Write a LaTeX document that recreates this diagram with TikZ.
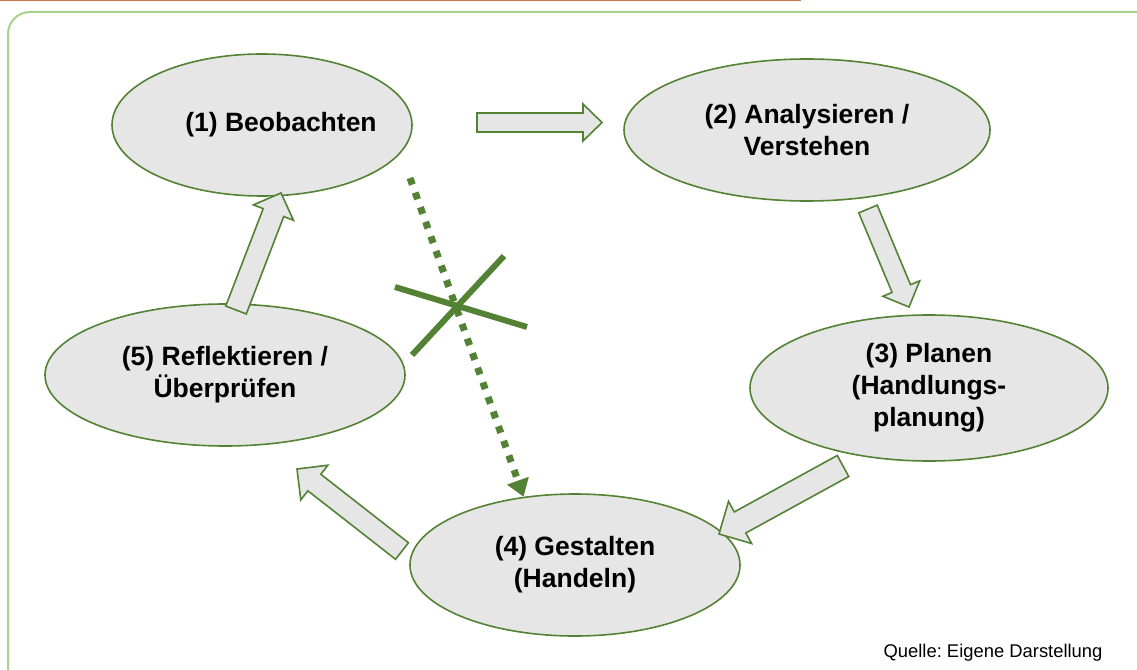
\documentclass[tikz,border=0pt]{standalone}
\usepackage{fontspec}
\setmainfont{Liberation Sans}
\frenchspacing
\usetikzlibrary{shapes.geometric}
\usetikzlibrary{arrows.meta}
\usetikzlibrary{calc}

\definecolor{darkgreen}{RGB}{84,130,53}
\definecolor{lightgreen}{RGB}{169,209,142}
\definecolor{stagegray}{RGB}{231,230,230}
\definecolor{topline}{RGB}{197,118,74}

% block arrow: tail, tip, half body width, half head width, head length
\newcommand{\blockarrow}[5]{%
  \coordinate (hb) at ($(#2)!#5!(#1)$);
  \draw[blockarr] ($(#1)!#3!90:(#2)$) -- ($(hb)!#3!90:(#2)$) -- ($(hb)!#4!90:(#2)$) -- (#2)
    -- ($(hb)!#4!-90:(#2)$) -- ($(hb)!#3!-90:(#2)$) -- ($(#1)!#3!-90:(#2)$) -- cycle;
}

\begin{document}
\begin{tikzpicture}[x=1pt, y=-1pt,
    stage/.style={ellipse, draw=darkgreen, line width=1.6pt, fill=stagegray, inner sep=0pt,
      align=center, font=\fontsize{26.5}{32}\selectfont\bfseries},
    blockarr/.style={draw=darkgreen, line width=1.6pt, fill=stagegray, line join=miter},
    dotarr/.style={darkgreen, line width=7pt, dash pattern=on 7pt off 8.5pt,
      -{Triangle[width=22pt,length=17pt]}},
    crossline/.style={darkgreen, line width=6pt}]
  \useasboundingbox (0,0) rectangle (1137,669);
  \clip (0,0) rectangle (1137,669);

  % Rahmen
  \draw[topline, line width=2pt] (0,0.5) -- (801,0.5);
  \draw[lightgreen, line width=2pt, rounded corners=22pt] (8,12) rectangle (1160,690);

  % Phasen
  \node[stage, inner xsep=-12pt, minimum width=300pt, minimum height=142pt] (beob) at (262,125) {\hspace*{38pt}(1) Beobachten};
  \node[stage, minimum width=366pt, minimum height=142pt] (anal) at (807,130) {(2) Analysieren /\\Verstehen};
  \node[stage, minimum width=358pt, minimum height=146pt] (plan) at (929,388) {(3) Planen\\(Handlungs-\\planung)};
  \node[stage, minimum width=330pt, minimum height=142pt] (gest) at (575,565) {(4) Gestalten\\(Handeln)};
  \node[stage, minimum width=360pt, minimum height=142pt] (refl) at (225,375) {(5) Reflektieren /\\Überprüfen};

  % Pfeile zwischen den Phasen
  \coordinate (a12) at (477,122.5);  \coordinate (b12) at (602,122.5);
  \coordinate (a23) at (868,209);    \coordinate (b23) at (909,307);
  \coordinate (a34) at (843,466);    \coordinate (b34) at (719,534);
  \coordinate (a45) at (402,551);    \coordinate (b45) at (297,469);
  \coordinate (a51) at (236,310);    \coordinate (b51) at (281,193);
  \blockarrow{a12}{b12}{9.5pt}{18.5pt}{19pt}
  \blockarrow{a23}{b23}{10pt}{20pt}{20pt}
  \blockarrow{a34}{b34}{12pt}{24pt}{24pt}
  \blockarrow{a45}{b45}{10.5pt}{22pt}{22pt}
  \blockarrow{a51}{b51}{11pt}{21.5pt}{21pt}

  % direkter Weg (durchgestrichen)
  \coordinate (dstart) at (410,178);
  \draw[dotarr] (dstart) -- (gest.127);
  \draw[crossline] (395,287) -- (527,327);
  \draw[crossline] (412,355) -- (504,256);

  \node[anchor=base east, font=\fontsize{18.4}{22}\selectfont] (quelle) at (1106,657) {Quelle: Eigene Darstellung};
\end{tikzpicture}
\end{document}
